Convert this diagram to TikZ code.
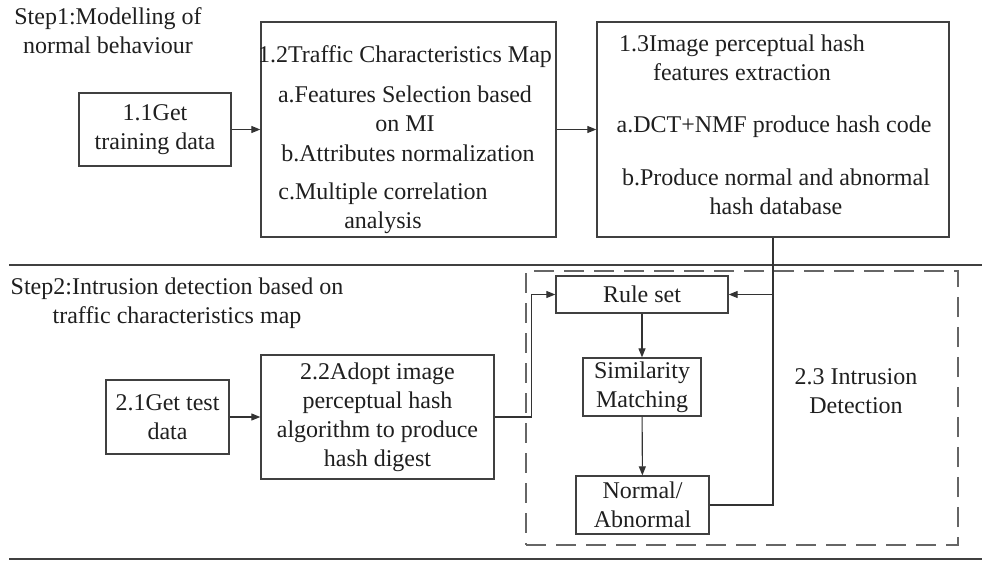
\documentclass[tikz,border=0pt]{standalone}
\usepackage{fontspec}
\setmainfont{Liberation Serif}
\usetikzlibrary{arrows.meta}

\begin{document}
\begin{tikzpicture}[x=1pt,y=-1pt,
    every node/.style={font=\fontsize{24}{29}\selectfont, text=black!88},
    box/.style={draw=black!75, line width=1.3pt, inner sep=0pt, align=center},
    txt/.style={inner sep=0pt, align=center},
    link/.style={draw=black!80, line width=1.1pt},
    arr/.style={link, -{Triangle[length=9pt,width=7pt]}},
    frame/.style={draw=black!60, line width=1.8pt, dash pattern=on 20pt off 10pt},
    rule/.style={draw=black!75, line width=1.5pt}]
    \useasboundingbox (0,0) rectangle (982,562);
    \node[txt] (step1) at (108,31) {Step1:Modelling of\\normal behaviour};
    \node[box, minimum width=152, minimum height=73] (b11) at (155,129.5) {1.1Get\\training data};
    \node[box, minimum width=295, minimum height=215] (b12) at (408.5,129.5) {};
    \node[txt] (b12t) at (405,57) {1.2Traffic Characteristics Map};
    \node[txt] (b12a) at (405,109) {a.Features Selection based\\on MI};
    \node[txt] (b12b) at (408,153) {b.Attributes normalization};
    \node[txt] (b12c) at (383,208) {c.Multiple correlation\\analysis};
    \node[box, minimum width=352, minimum height=215] (b13) at (773,129.5) {};
    \node[txt] (b13t) at (742,58) {1.3Image perceptual hash\\features extraction};
    \node[txt] (b13a) at (774,127) {a.DCT+NMF produce hash code};
    \node[txt] (b13b) at (776,192) {b.Produce normal and abnormal\\hash database};
    \draw[arr] (b11) -- (b12);
    \draw[arr] (b12) -- (b13);
    \coordinate (top1) at (9,265);
    \coordinate (top2) at (982,265);
    \draw[rule] (top1) -- (top2);
    \node[txt] (step2) at (177,303) {Step2:Intrusion detection based on\\traffic characteristics map};
    \node[box, minimum width=123, minimum height=74] (b21) at (167.5,417) {2.1Get test\\data};
    \node[box, minimum width=233, minimum height=124] (b22) at (377.5,417) {2.2Adopt image\\perceptual hash\\algorithm to produce\\hash digest};
    \node[frame, minimum width=432, minimum height=274, inner sep=0pt] (b23) at (742,408) {};
    \node[box, minimum width=172, minimum height=37] (rules) at (642,294.5) {Rule set};
    \node[box, minimum width=118, minimum height=58] (sim) at (642,387) {Similarity\\Matching};
    \node[box, minimum width=133, minimum height=58] (norm) at (642.5,505) {Normal/\\Abnormal};
    \node[txt] (b23t) at (856,391) {2.3 Intrusion\\Detection};
    \coordinate (jn) at (773,294.5);
    \draw[arr] (b21) -- (b22);
    \draw[arr] (b22.east) -- ++(37,0) |- (rules.west);
    \draw[arr] (rules) -- (sim);
    \draw[arr] (sim) -- (norm);
    \draw[link] (b13.south) -- (jn);
    \draw[arr] (norm.east) -| (jn) -- (rules.east);
    \coordinate (bot1) at (9,559);
    \coordinate (bot2) at (982,559);
    \draw[rule, line width=2.5pt] (bot1) -- (bot2);
\end{tikzpicture}
\end{document}
